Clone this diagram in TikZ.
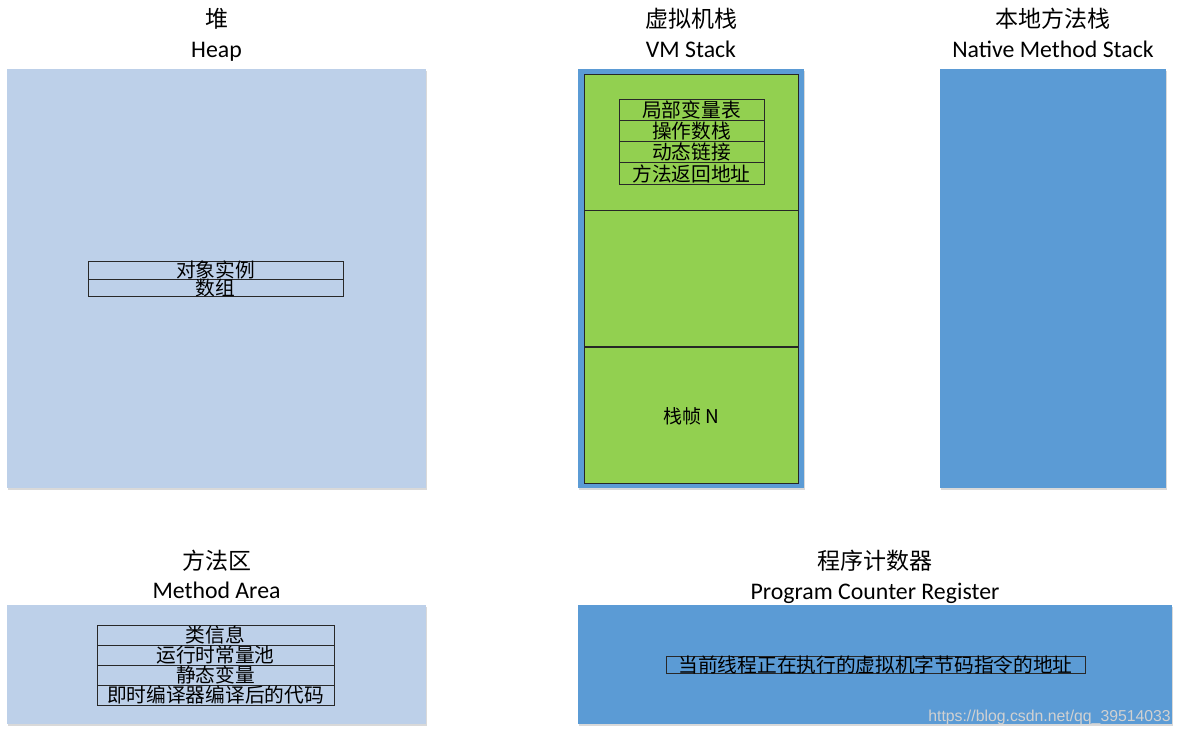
\documentclass[tikz,border=0pt]{standalone}
\usepackage{fontspec}
\setmainfont{Carlito}
\newfontfamily\cjk{Noto Sans CJK SC}
\newfontfamily\wmfont{Liberation Sans}
\usetikzlibrary{shadows}
\definecolor{lightblue}{RGB}{189,208,233}
\definecolor{midblue}{RGB}{91,155,213}
\definecolor{vmgreen}{RGB}{146,208,80}
\definecolor{cellline}{RGB}{40,40,40}
\tikzset{
  area/.style={draw=none, inner sep=0, outer sep=0,
    drop shadow={shadow xshift=1pt, shadow yshift=-2pt, opacity=0.15, fill=black}},
  frame/.style={draw=black!85, line width=0.9pt, fill=vmgreen, inner sep=0,
    minimum width=214pt, minimum height=136pt, font=\cjk\fontsize{19}{20}\selectfont},
  cell/.style={draw=cellline, line width=0.9pt, inner sep=0, outer sep=0,
    font=\cjk\fontsize{19.7}{20}\selectfont, text height=15.4pt, text depth=0.4pt},
  cjktitle/.style={font=\cjk\fontsize{23}{24}\selectfont, inner sep=0},
  entitle/.style={font=\fontsize{23.8}{25}\selectfont, inner sep=0, anchor=base},
}
\begin{document}
\begin{tikzpicture}[x=1pt, y=-1pt]
\useasboundingbox (0,0) rectangle (1181,736);
\fill[white] (0,0) rectangle (1181,736);

% ---------- Heap ----------
\node[cjktitle] (heapzh) at (216.5,19) {堆};
\node[entitle] (heapen) at (216.5,57) {Heap};
\node[area, fill=lightblue, minimum width=419pt, minimum height=419pt] (heap) at (216.5,278.5) {};
\node[cell, minimum width=255pt, minimum height=18pt] (h1) at (215.5,270) {对象实例};
\node[cell, minimum width=255pt, minimum height=17pt, anchor=north] (h2) at (h1.south) {数组};

% ---------- VM Stack ----------
\node[cjktitle] (vmzh) at (691,19) {虚拟机栈};
\node[entitle] (vmen) at (691,57) {VM Stack};
\node[area, fill=midblue, minimum width=226pt, minimum height=419pt] (vm) at (691,278.5) {};
\node[frame] (f1) at (691,142) {};
\node[frame, anchor=north] (f2) at (f1.south) {};
\node[frame, anchor=north] (f3) at (f2.south) {栈帧 N};
\node[cell, minimum width=145pt, minimum height=21.3pt] (v1) at (691.5,109.6) {局部变量表};
\node[cell, minimum width=145pt, minimum height=21.3pt, anchor=north] (v2) at (v1.south) {操作数栈};
\node[cell, minimum width=145pt, minimum height=21.3pt, anchor=north] (v3) at (v2.south) {动态链接};
\node[cell, minimum width=145pt, minimum height=21.3pt, anchor=north] (v4) at (v3.south) {方法返回地址};

% ---------- Native Method Stack ----------
\node[cjktitle] (nzh) at (1053,19) {本地方法栈};
\node[entitle] (nen) at (1053,57) {Native Method Stack};
\node[area, fill=midblue, minimum width=226pt, minimum height=419pt] (native) at (1053,278.5) {};

% ---------- Method Area ----------
\node[cjktitle] (mzh) at (216.5,561) {方法区};
\node[entitle] (men) at (216.5,598.5) {Method Area};
\node[area, fill=lightblue, minimum width=419pt, minimum height=119pt] (marea) at (216.5,664.5) {};
\node[cell, minimum width=237pt, minimum height=20pt] (m1) at (215.5,635) {类信息};
\node[cell, minimum width=237pt, minimum height=20pt, anchor=north] (m2) at (m1.south) {运行时常量池};
\node[cell, minimum width=237pt, minimum height=20pt, anchor=north] (m3) at (m2.south) {静态变量};
\node[cell, minimum width=237pt, minimum height=20pt, anchor=north] (m4) at (m3.south) {即时编译器编译后的代码};

% ---------- Program Counter Register ----------
\node[cjktitle] (pzh) at (875,561) {程序计数器};
\node[entitle] (pen) at (875,599) {Program Counter Register};
\node[area, fill=midblue, minimum width=594pt, minimum height=119pt] (pc) at (875,664.5) {};
\node[cell, minimum width=419pt, minimum height=17pt] (p1) at (875.5,664.5) {当前线程正在执行的虚拟机字节码指令的地址};

% ---------- watermark ----------
\node[font=\wmfont\fontsize{15.8}{16}\selectfont, text=white!82!black, inner sep=0, anchor=east] (wm) at (1171,717) {https://blog.csdn.net/qq\_39514033};
\end{tikzpicture}
\end{document}
